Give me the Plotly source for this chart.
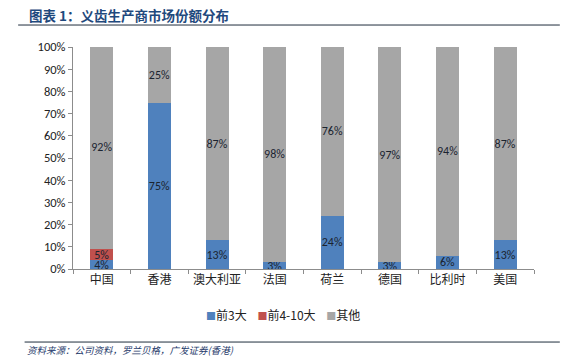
import plotly.graph_objects as go

categories = ["中国", "香港", "澳大利亚", "法国", "荷兰", "德国", "比利时", "美国"]
top3 = [4, 75, 13, 3, 24, 3, 6, 13]
top4_10 = [5, 0, 0, 0, 0, 0, 0, 0]
others = [92, 25, 87, 98, 76, 97, 94, 87]
series_names = ["前3大", "前4-10大", "其他"]
colors = ["#4F81BD", "#C0504D", "#A6A6A6"]
y_ticks = [0, 10, 20, 30, 40, 50, 60, 70, 80, 90, 100]
y_tick_labels = [f"{v}%" for v in y_ticks]

font_cjk = "Noto Sans CJK SC, sans-serif"
font_num = "Calibri, Carlito, Liberation Sans, sans-serif"

fig = go.Figure()
for name, vals, col in zip(series_names, [top3, top4_10, others], colors):
    fig.add_trace(go.Bar(
        x=categories, y=vals, name=name,
        marker=dict(color=col, line=dict(width=0)),
        text=[f"{v}%" if v > 0 else "" for v in vals],
        textposition="inside", insidetextanchor="middle", textangle=0,
        textfont=dict(color="#1b2430", size=12, family=font_num),
        width=0.4, showlegend=False, hoverinfo="skip",
    ))

fig.update_layout(
    barmode="stack",
    width=568, height=359,
    margin=dict(l=73, r=34, t=47, b=90),
    paper_bgcolor="white", plot_bgcolor="white",
    font=dict(family=font_cjk, size=12, color="#222222"),
    uniformtext=dict(minsize=12, mode="show"),
    showlegend=False,
    xaxis=dict(showline=True, linecolor="#8c8c8c", linewidth=1, ticks="outside",
               tickson="boundaries", ticklen=4, tickcolor="#8c8c8c", tickangle=0,
               tickfont=dict(size=12, family=font_cjk, color="#222222"), showgrid=False),
    yaxis=dict(range=[0, 100], tickvals=y_ticks, ticktext=y_tick_labels,
               showline=True, linecolor="#8c8c8c", linewidth=1, ticks="outside",
               ticklen=4, tickcolor="#8c8c8c", showgrid=False, zeroline=False,
               tickfont=dict(size=12.5, family=font_num, color="#222222")),
)

# legend (compact, like the reference)
legend_text = "&nbsp;&nbsp;&nbsp;&nbsp;".join(
    f'<span style="color:{c};font-size:10px">■</span>{n}' for n, c in zip(series_names, colors)
)
fig.add_annotation(text=legend_text, xref="paper", yref="paper", x=0.455, y=-0.207,
                   xanchor="center", yanchor="middle", showarrow=False,
                   font=dict(size=12, family=font_cjk, color="#222222"))

fig.add_annotation(text="<b>图表 1：义齿生产商市场份额分布</b>", xref="paper", yref="paper",
                   x=-0.10, y=1.145, xanchor="left", yanchor="middle", showarrow=False,
                   font=dict(size=13.5, color="#1F497D", family=font_cjk))
fig.add_shape(type="line", xref="paper", yref="paper", x0=-0.119, x1=1.056, y0=1.099, y1=1.099,
              line=dict(color="#1F2D3D", width=1))
fig.add_shape(type="line", xref="paper", yref="paper", x0=-0.105, x1=1.056, y0=-0.329, y1=-0.329,
              line=dict(color="#1F2D3D", width=1))
fig.add_annotation(text="<i>资料来源：公司资料，罗兰贝格，广发证券(香港)</i>", xref="paper", yref="paper",
                   x=-0.104, y=-0.365, xanchor="left", yanchor="middle", showarrow=False,
                   font=dict(size=9.5, color="#1F3B6B", family=font_cjk))

fig.write_html("out.html", config={"displayModeBar": False},
               post_script="document.body.style.margin='0px';document.body.style.overflow='hidden';")
